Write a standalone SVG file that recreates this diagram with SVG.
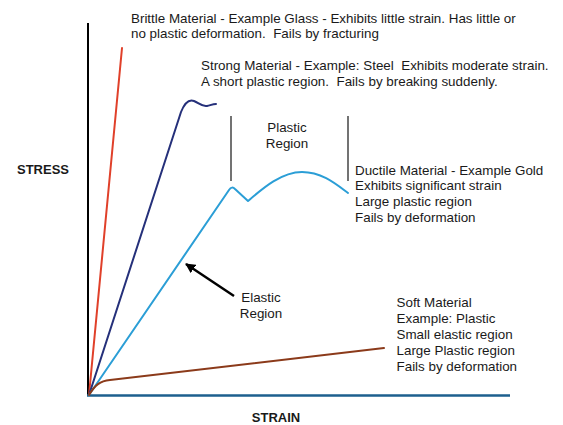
<svg xmlns="http://www.w3.org/2000/svg" width="563" height="425" viewBox="0 0 563 425">
<style>
text{font-family:"Liberation Sans",Arial,sans-serif;font-size:13.4px;fill:#1a1a1a;white-space:pre}
.b{font-weight:bold;font-size:13px}
.m{text-anchor:middle}
.c{fill:none;stroke-width:2;stroke-linejoin:round;stroke-linecap:round}
</style>
<defs>
<marker id="ah" markerWidth="10" markerHeight="10" refX="9" refY="5" orient="auto" markerUnits="userSpaceOnUse" viewBox="0 0 10 10">
<path d="M0,0 L10,5 L0,10 z" fill="#000"/>
</marker>
</defs>
<rect width="563" height="425" fill="#fff"/>
<g id="connectors">
<line x1="88" y1="23" x2="88" y2="396" stroke="#000" stroke-width="2"/>
<line x1="87" y1="395.5" x2="510" y2="395.5" stroke="#1d5f8e" stroke-width="2.5"/>
<path class="c" d="M89,395 L122,48" stroke="#e0402a"/>
<path class="c" d="M89,395 L181,112 C185,102 189,99 194,101 C199,103 202,107 207,106 C211,105 213,104 216,104" stroke="#25307a"/>
<path class="c" d="M89,395 L229,190 C231,187 233,187 235,189 L248,201 C262,189 281,172 302,172 C322,172 336,184 348,193" stroke="#2b9ed6"/>
<path class="c" d="M89,395 C95,385 100,381 110,380 L384,348" stroke="#8b3a1a"/>
<line x1="231" y1="116" x2="231" y2="181" stroke="#444" stroke-width="1.5"/>
<line x1="348" y1="116" x2="348" y2="181" stroke="#444" stroke-width="1.5"/>
<line x1="234" y1="296" x2="186" y2="264" stroke="#000" stroke-width="2.5" marker-end="url(#ah)"/>
</g>
<g id="brittle">
<text x="131" y="22.5">Brittle Material - Example Glass - Exhibits little strain. Has little or</text>
<text x="131" y="38">no plastic deformation.  Fails by fracturing</text>
</g>
<g id="strong">
<text x="201" y="70">Strong Material - Example: Steel  Exhibits moderate strain.</text>
<text x="201" y="85.5">A short plastic region.  Fails by breaking suddenly.</text>
</g>
<g id="plastic-region">
<text class="m" x="287" y="131.5">Plastic</text>
<text class="m" x="287" y="147.5">Region</text>
</g>
<g id="ductile">
<text x="355" y="174.5">Ductile Material - Example Gold</text>
<text x="355" y="190">Exhibits significant strain</text>
<text x="355" y="205.5">Large plastic region</text>
<text x="355" y="221.5">Fails by deformation</text>
</g>
<g id="elastic-region">
<text class="m" x="261" y="302">Elastic</text>
<text class="m" x="261" y="317.5">Region</text>
</g>
<g id="soft">
<text x="396.5" y="307">Soft Material</text>
<text x="396.5" y="323">Example: Plastic</text>
<text x="396.5" y="339">Small elastic region</text>
<text x="396.5" y="355">Large Plastic region</text>
<text x="396.5" y="371">Fails by deformation</text>
</g>
<g id="stress-label">
<text class="b" x="17" y="173.5">STRESS</text>
</g>
<g id="strain-label">
<text class="b m" x="276" y="421.5">STRAIN</text>
</g>
</svg>
